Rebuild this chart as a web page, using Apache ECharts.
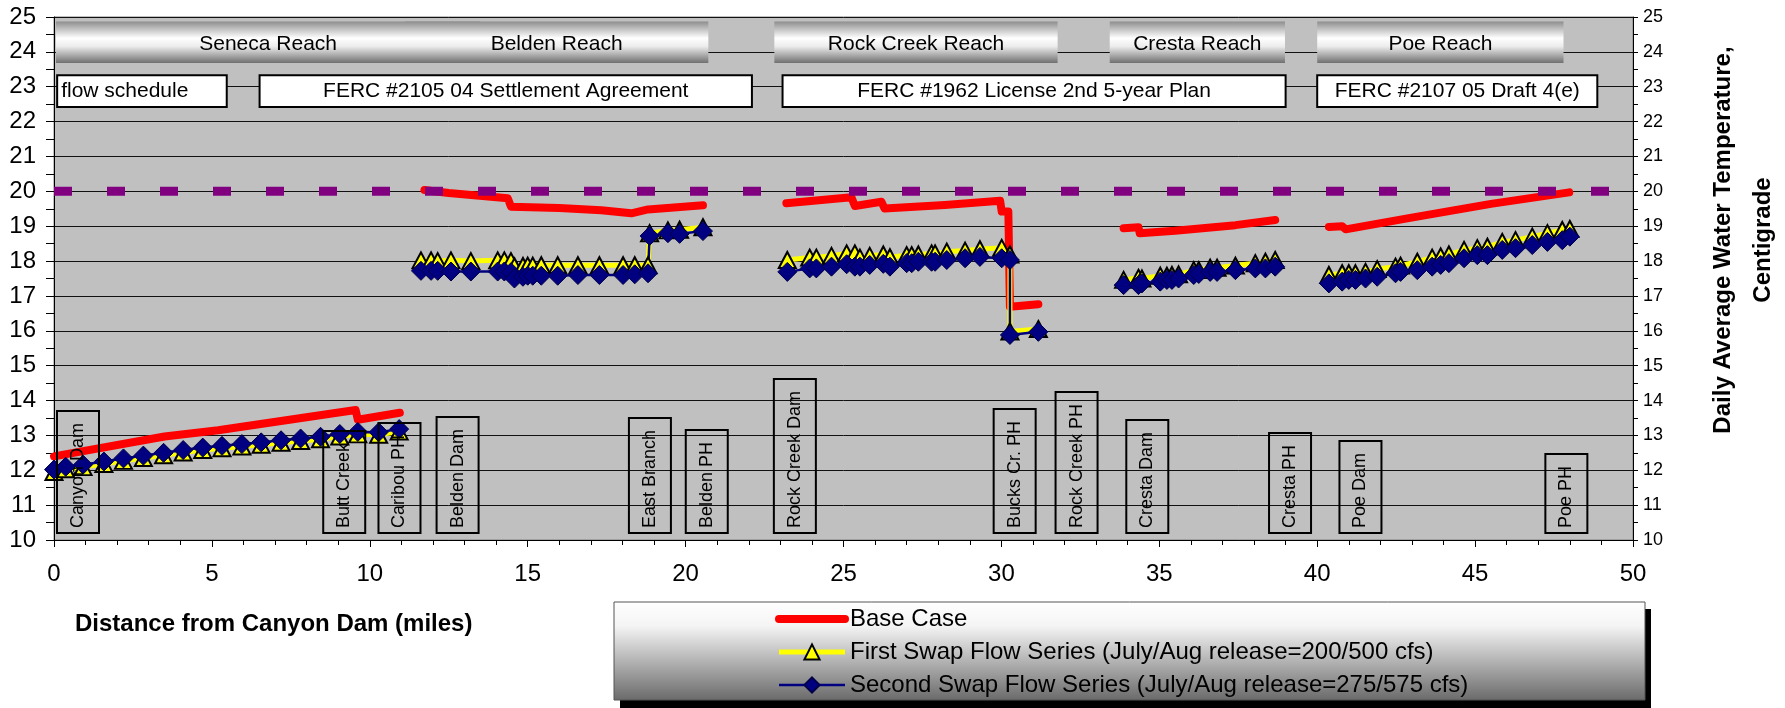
<!DOCTYPE html>
<html><head><meta charset="utf-8">
<script src="https://cdn.jsdelivr.net/npm/echarts@6/dist/echarts.min.js"></script>
<style>html,body{margin:0;padding:0;background:#fff;}#c{width:1785px;height:708px;}</style>
</head><body><div id="c"></div>
<script>
// ---------- data ----------
const xTicks = [0, 5, 10, 15, 20, 25, 30, 35, 40, 45, 50];
const yTicks = [10, 11, 12, 13, 14, 15, 16, 17, 18, 19, 20, 21, 22, 23, 24, 25];

const seriesNames = ['Base Case',
  'First Swap Flow Series (July/Aug release=200/500 cfs)',
  'Second Swap Flow Series (July/Aug release=275/575 cfs)'];

// Base case [mile, temp] per reach
const baseSeneca = [[0,12.4],[3.5,12.97],[5.2,13.15],[9.55,13.73],[9.62,13.45],[10.95,13.65]];
const baseBelden = [[11.73,20.04],[12.5,19.95],[14.37,19.8],[14.47,19.56],[16.0,19.52],[17.33,19.46],[18.28,19.37],[18.81,19.48],[20.55,19.6]];
const baseRockCreek = [[23.19,19.66],[25.25,19.83],[25.36,19.58],[26.2,19.7],[26.3,19.51],[28.21,19.61],[29.96,19.73],[30.01,19.42],[30.22,19.42],[30.27,16.69],[31.17,16.76]];
const baseCresta = [[33.87,18.94],[34.34,18.97],[34.38,18.8],[35.5,18.87],[37.41,19.03],[38.67,19.18]];
const basePoe = [[40.37,18.98],[40.79,19.0],[40.9,18.91],[42.9,19.23],[45.5,19.64],[47.98,19.97]];

// Swap flow series: shared miles per reach
const milesSeneca = [0,0.37,0.92,1.58,2.2,2.83,3.47,4.09,4.71,5.32,5.95,6.56,7.19,7.81,8.44,9.05,9.62,10.28,10.93];
const firstSeneca = [11.95,12.03,12.09,12.18,12.27,12.35,12.43,12.51,12.58,12.63,12.68,12.73,12.79,12.84,12.89,12.97,13.03,13.02,13.11];
const secondSeneca = [12.02,12.1,12.16,12.25,12.34,12.42,12.5,12.58,12.65,12.7,12.75,12.8,12.86,12.91,12.96,13.04,13.1,13.09,13.18];

const milesBelden = [11.62,11.94,12.15,12.57,13.2,14.05,14.26,14.47,14.58,14.85,15.0,15.16,15.43,15.95,16.59,17.27,18.02,18.39,18.81,18.86,19.44,19.81,20.55];
const firstBelden = [18.02,18.02,18.0,18.02,18.0,18.02,18.02,18.0,17.85,17.86,17.87,17.87,17.88,17.88,17.88,17.88,17.88,17.88,17.88,18.8,18.88,18.9,18.97];
const secondBelden = [17.72,17.72,17.72,17.7,17.7,17.7,17.7,17.68,17.5,17.55,17.58,17.58,17.58,17.58,17.6,17.6,17.6,17.62,17.65,18.72,18.8,18.78,18.86];

const milesRockCreek = [23.22,23.93,24.14,24.62,25.1,25.36,25.52,25.83,26.26,26.47,27.0,27.16,27.37,27.79,27.9,28.27,28.85,29.32,30.01,30.27,30.27,31.17];
const firstRockCreek = [18.03,18.1,18.1,18.15,18.22,18.22,18.1,18.15,18.19,18.11,18.17,18.17,18.19,18.22,18.22,18.27,18.3,18.34,18.38,18.19,15.98,16.05];
const secondRockCreek = [17.69,17.79,17.79,17.84,17.91,17.84,17.84,17.89,17.92,17.84,17.94,17.94,17.98,17.98,17.98,18.03,18.08,18.12,18.08,18.03,15.88,15.97];

const milesCresta = [33.87,34.34,34.45,35.03,35.24,35.4,35.61,36.09,36.25,36.61,36.83,37.41,38.04,38.36,38.67];
const firstCresta = [17.46,17.52,17.5,17.58,17.58,17.6,17.62,17.74,17.74,17.81,17.81,17.87,17.94,17.98,18.03];
const secondCresta = [17.31,17.31,17.36,17.41,17.46,17.46,17.5,17.6,17.63,17.69,17.69,17.74,17.79,17.79,17.84];

const milesPoe = [40.37,40.79,41.0,41.21,41.53,41.9,42.48,42.64,43.17,43.64,43.91,44.17,44.65,45.07,45.39,45.86,46.28,46.81,47.29,47.76,48.0];
const firstPoe = [17.6,17.65,17.65,17.65,17.69,17.77,17.84,17.87,17.98,18.1,18.13,18.19,18.32,18.37,18.41,18.55,18.6,18.7,18.8,18.89,18.92];
const secondPoe = [17.36,17.41,17.46,17.46,17.5,17.55,17.65,17.69,17.74,17.84,17.89,17.94,18.08,18.17,18.17,18.32,18.37,18.46,18.55,18.6,18.7];

const criterion = [[0,20],[50,20]];

// annotations (miles); Seneca box runs under the Belden box
const reaches = [['Seneca Reach',0.06,13.5],['Belden Reach',11.11,20.72],['Rock Creek Reach',22.81,31.78],['Cresta Reach',33.43,38.98],['Poe Reach',40.0,47.8]];
const schedules = [['flow schedule',0.1,5.47],['FERC #2105 04 Settlement Agreement',6.51,22.1],['FERC #1962 License 2nd 5-year Plan',23.07,39.0],['FERC #2107 05 Draft 4(e)',40.0,48.87]];
const stations = [['Canyon Dam',0.76],['Butt Creek',9.19],['Caribou PH',10.94],['Belden Dam',12.78],['East Branch',18.87],['Belden PH',20.67],['Rock Creek Dam',23.46],['Bucks Cr. PH',30.42],['Rock Creek PH',32.38],['Cresta Dam',34.62],['Cresta PH',39.14],['Poe Dam',41.37],['Poe PH',47.89]];

// ---------- build ----------
const FONT = '"Liberation Sans", Arial, sans-serif';
function seg(m, t) { return m.map((v, i) => [v, t[i]]); }
function joinSegs(segs) {
  const out = [];
  segs.forEach((s, i) => {
    if (i) out.push([(out[out.length-1][0] + s[0][0]) / 2, '-']);
    s.forEach(p => out.push(p));
  });
  return out;
}
const baseData = joinSegs([baseSeneca, baseBelden, baseRockCreek, baseCresta, basePoe]);
const firstData = joinSegs([seg(milesSeneca, firstSeneca), seg(milesBelden, firstBelden), seg(milesRockCreek, firstRockCreek), seg(milesCresta, firstCresta), seg(milesPoe, firstPoe)]);
const secondData = joinSegs([seg(milesSeneca, secondSeneca), seg(milesBelden, secondBelden), seg(milesRockCreek, secondRockCreek), seg(milesCresta, secondCresta), seg(milesPoe, secondPoe)]);

const chart = echarts.init(document.getElementById('c'));
const blk = {color: '#000', width: 1};
const yBase = {
  type: 'value', min: yTicks[0], max: yTicks[yTicks.length-1], interval: yTicks[1]-yTicks[0],
  axisLine: {show: true, lineStyle: blk},
  minorTick: {show: true, splitNumber: 2, lineStyle: blk},
  splitLine: {show: false}
};
chart.setOption({
  animation: false,
  backgroundColor: '#ffffff',
  textStyle: {fontFamily: FONT},
  grid: {left: 54, right: 152, top: 17, bottom: 168, show: true, backgroundColor: '#C0C0C0',
    borderColor: '#808080', borderWidth: 1, containLabel: false, outerBoundsMode: 'none'},
  legend: {
    data: seriesNames, orient: 'vertical', left: 775, top: 607, padding: 0,
    itemWidth: 66, itemHeight: 19, itemGap: 9,
    textStyle: {fontSize: 24, color: '#000', fontFamily: FONT, lineHeight: 24},
    lineStyle: {width: 'inherit'}
  },
  xAxis: {
    type: 'value', min: xTicks[0], max: xTicks[xTicks.length-1], interval: xTicks[1]-xTicks[0],
    axisLine: {show: true, lineStyle: blk},
    axisTick: {show: true, length: 7, lineStyle: blk},
    minorTick: {show: true, splitNumber: 5, length: 5, lineStyle: blk},
    splitLine: {show: false},
    axisLabel: {fontSize: 24, color: '#000', margin: 22, fontFamily: FONT}
  },
  yAxis: [
    Object.assign({}, yBase, {position: 'left',
      axisTick: {show: true, length: 8, lineStyle: blk},
      minorTick: {show: true, splitNumber: 2, length: 8, lineStyle: blk},
      splitLine: {show: true, lineStyle: {color: '#111', width: 1}},
      axisLabel: {fontSize: 24, color: '#000', margin: 18, fontFamily: FONT}}),
    Object.assign({}, yBase, {position: 'right',
      axisTick: {show: true, length: 5, lineStyle: blk},
      minorTick: {show: true, splitNumber: 2, length: 5, lineStyle: blk},
      axisLabel: {fontSize: 18, color: '#000', margin: 10, fontFamily: FONT}})
  ],
  series: [
    {name: seriesNames[0], type: 'line', data: baseData, symbol: 'none',
     itemStyle: {color: '#FF0000', opacity: 0},
     lineStyle: {color: '#FF0000', width: 8, cap: 'round', join: 'round'}, emphasis: {disabled: true}},
    {name: seriesNames[1], type: 'line', data: firstData, symbol: 'triangle', symbolSize: [17, 16],
     itemStyle: {color: '#FFFF00', borderColor: '#000', borderWidth: 2},
     lineStyle: {color: '#FFFF00', width: 5}, emphasis: {disabled: true}},
    {name: seriesNames[2], type: 'line', data: secondData, symbol: 'diamond', symbolSize: 19,
     itemStyle: {color: '#000080', borderColor: '#00004a', borderWidth: 1},
     lineStyle: {color: '#000080', width: 2.5}, emphasis: {disabled: true}},
    {name: 'criterion', type: 'line', data: criterion, symbol: 'none',
     lineStyle: {color: '#800080', width: 9, type: [18, 35], cap: 'butt'}, emphasis: {disabled: true}}
  ]
});

// ---------- annotations ----------
const px = (x, y) => chart.convertToPixel({xAxisIndex: 0, yAxisIndex: 0}, [x, y]);
const REACH_TOP = 24.87, REACH_BOTTOM = 23.68, SCHED_TOP = 23.33, SCHED_BOTTOM = 22.42, STATION_BASE = 10.2;
const g = [];
reaches.forEach(([name, x0, x1], i) => {
  const a = px(x0, REACH_TOP), b = px(x1, REACH_BOTTOM);
  g.push({type: 'rect', z: 5, z2: i * 2, shape: {x: a[0], y: a[1], width: b[0]-a[0], height: b[1]-a[1]},
    style: {fill: new echarts.graphic.LinearGradient(0, 0, 0, 1, [
      {offset: 0, color: '#8e8e8e'}, {offset: 0.4, color: '#ffffff'},
      {offset: 0.6, color: '#ececec'}, {offset: 1, color: '#707070'}])}});
  g.push({type: 'text', z: 5, z2: i * 2 + 1, x: (a[0]+b[0])/2, y: (a[1]+b[1])/2 + 2,
    style: {text: name, font: '21px ' + FONT, fill: '#000', align: 'center', verticalAlign: 'middle'}});
});
schedules.forEach(([name, x0, x1], i) => {
  const a = px(x0, SCHED_TOP), b = px(x1, SCHED_BOTTOM);
  g.push({type: 'rect', z: 5, shape: {x: a[0], y: a[1], width: b[0]-a[0], height: b[1]-a[1]},
    style: {fill: '#ffffff', stroke: '#000', lineWidth: 2}});
  g.push({type: 'text', z: 6, x: i === 0 ? a[0] + 4 : (a[0]+b[0])/2, y: (a[1]+b[1])/2,
    style: {text: name, font: '21px ' + FONT, fill: '#000', align: i === 0 ? 'left' : 'center', verticalAlign: 'middle'}});
});
stations.forEach(([name, mile]) => {
  const p = px(mile, STATION_BASE);
  g.push({type: 'text', z: 7, x: p[0], y: p[1], rotation: Math.PI / 2,
    style: {text: name, font: '18px ' + FONT, fill: '#000', align: 'left', verticalAlign: 'middle',
      lineHeight: 20, padding: [11, 12, 11, 5], borderColor: '#000', borderWidth: 2}});
});
// axis titles
g.push({type: 'text', z: 7, x: 75, y: 624,
  style: {text: 'Distance from Canyon Dam (miles)', font: 'bold 24px ' + FONT, fill: '#000', align: 'left', verticalAlign: 'middle'}});
g.push({type: 'text', z: 7, x: 1743, y: 240, rotation: Math.PI / 2,
  style: {text: 'Daily Average Water Temperature,\nCentigrade', font: 'bold 24px ' + FONT, fill: '#000',
    align: 'center', verticalAlign: 'middle', lineHeight: 40}});
// legend frame
g.push({type: 'rect', z: 3, z2: 0, shape: {x: 620, y: 609, width: 1031, height: 99}, style: {fill: '#000'}});
g.push({type: 'rect', z: 3, z2: 1, shape: {x: 614, y: 602, width: 1031, height: 98},
  style: {fill: new echarts.graphic.LinearGradient(0, 0, 0, 1, [
    {offset: 0, color: '#ffffff'}, {offset: 0.25, color: '#f4f4f4'}, {offset: 1, color: '#6a6a6a'}]),
    stroke: '#555', lineWidth: 1}});
chart.setOption({graphic: g});
</script></body></html>
